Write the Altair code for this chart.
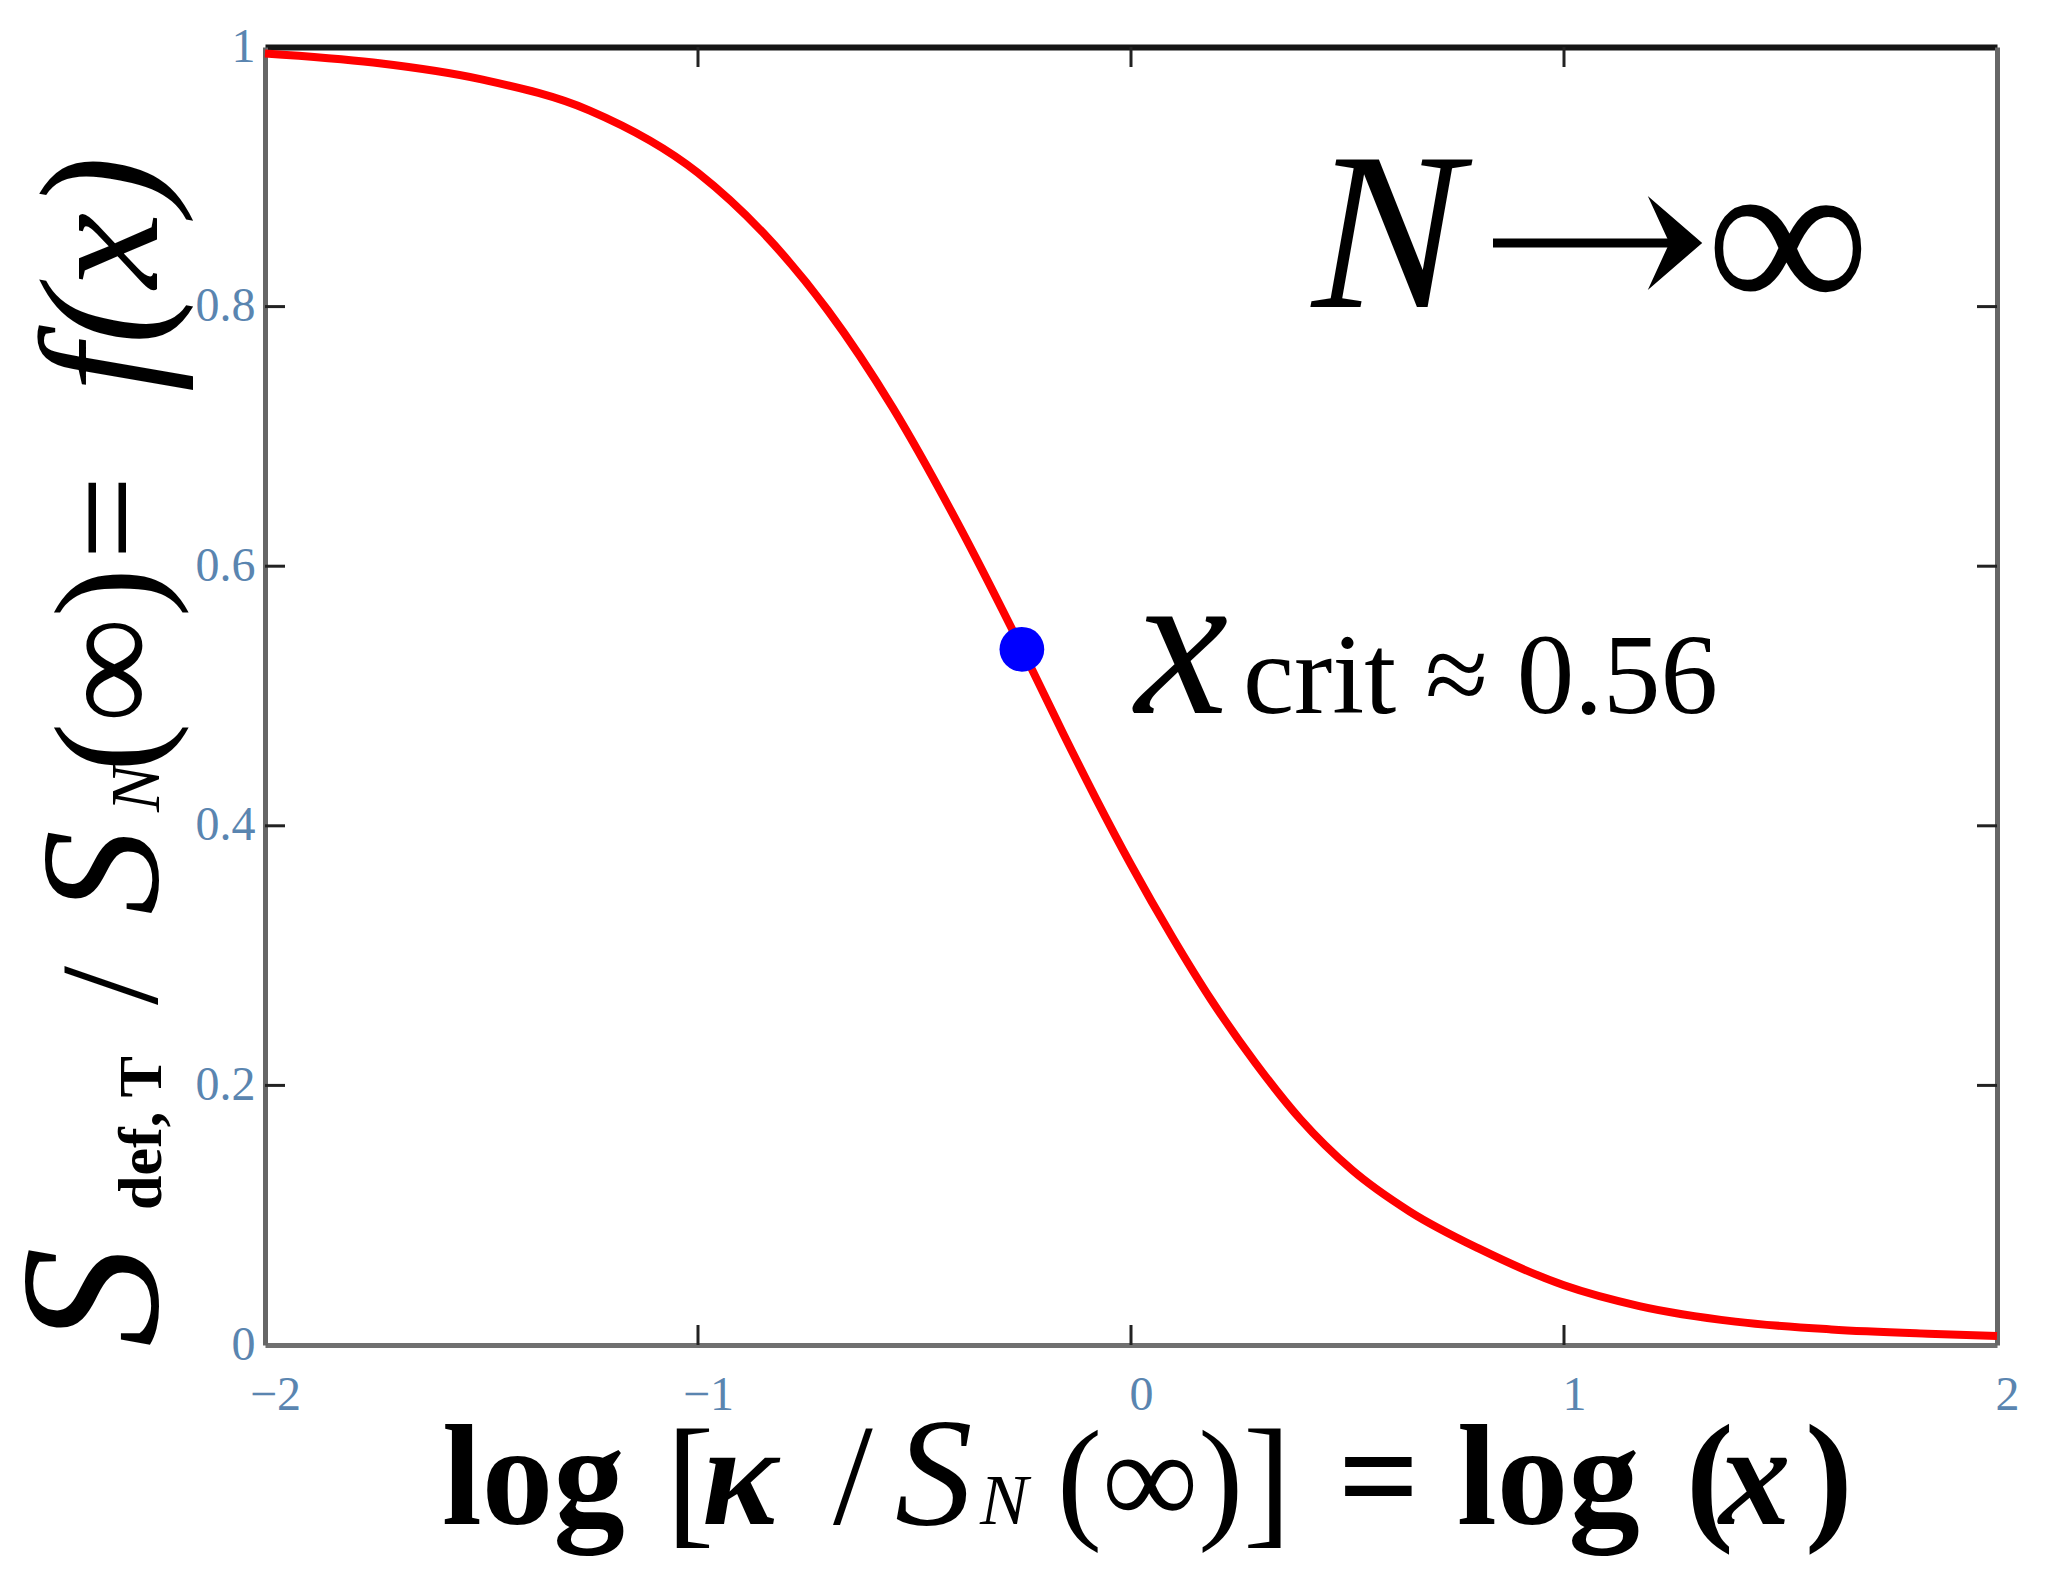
import altair as alt
import pandas as pd

# ---- data ----
log_x = [-2.0, -1.75, -1.5, -1.25, -1.0, -0.85, -0.7, -0.55, -0.4, -0.25, -0.155,
         -0.081, 0.0, 0.096, 0.185, 0.288, 0.391, 0.51, 0.643, 0.805, 1.0, 1.174,
         1.396, 1.617, 1.84, 2.0]
f_vals = [0.995, 0.988, 0.975, 0.951, 0.903, 0.857, 0.797, 0.722, 0.633, 0.535, 0.470,
          0.421, 0.370, 0.314, 0.266, 0.217, 0.174, 0.135, 0.103, 0.074, 0.046, 0.030,
          0.018, 0.012, 0.0087, 0.007]
crit_log_x = [-0.252]
crit_f = [0.536]
x_tick_values = [-2, -1, 0, 1, 2]
y_tick_values = [0, 0.2, 0.4, 0.6, 0.8, 1]
x_inner_ticks = [-1, 0, 1]
y_inner_ticks = [0.2, 0.4, 0.6, 0.8]

W, H = 1732, 1298
SERIF = "Liberation Serif"

curve = pd.DataFrame({"lx": log_x, "f": f_vals})
crit = pd.DataFrame({"lx": crit_log_x, "f": crit_f})
xt = pd.DataFrame({"t": x_inner_ticks})
yt = pd.DataFrame({"t": y_inner_ticks})
one = alt.Data(values=[{"k": 0}])

xs = alt.Scale(domain=[-2, 2], nice=False, zero=False)
ys = alt.Scale(domain=[0, 1], nice=False, zero=False)

label_style = dict(labelFont=SERIF, labelFontSize=48, labelColor="#5a85b0",
                   labelOverlap=False, labelFlush=False, format="~g",
                   grid=False, ticks=False, title=None)

line = alt.Chart(curve).mark_line(color="#ff0000", strokeWidth=8,
                                  interpolate="monotone").encode(
    x=alt.X("lx:Q", scale=xs,
            axis=alt.Axis(orient="bottom", values=x_tick_values, labelPadding=26,
                          labelOffset=10, domainColor="#707070", domainWidth=5,
                          **label_style)),
    y=alt.Y("f:Q", scale=ys,
            axis=alt.Axis(orient="left", values=y_tick_values, labelPadding=10,
                          domainColor="#666666", domainWidth=5, **label_style)),
)

point = alt.Chart(crit).mark_circle(color="#0000ff", size=2000, opacity=1).encode(
    x=alt.X("lx:Q", scale=xs,
            axis=alt.Axis(orient="top", labels=False, ticks=False, title=None,
                          grid=False, domainColor="#151515", domainWidth=6)),
    y=alt.Y("f:Q", scale=ys,
            axis=alt.Axis(orient="right", labels=False, ticks=False, title=None,
                          grid=False, domainColor="#666666", domainWidth=5)),
)

TL = 20
tick_kw = dict(color="#222222", strokeWidth=3)
bottom_ticks = alt.Chart(xt).mark_rule(**tick_kw).encode(
    x=alt.X("t:Q", scale=xs, axis=None), y=alt.value(H), y2=alt.value(H - TL))
top_ticks = alt.Chart(xt).mark_rule(**tick_kw).encode(
    x=alt.X("t:Q", scale=xs, axis=None), y=alt.value(0), y2=alt.value(TL))
left_ticks = alt.Chart(yt).mark_rule(**tick_kw).encode(
    y=alt.Y("t:Q", scale=ys, axis=None), x=alt.value(0), x2=alt.value(TL))
right_ticks = alt.Chart(yt).mark_rule(**tick_kw).encode(
    y=alt.Y("t:Q", scale=ys, axis=None), x=alt.value(W - TL), x2=alt.value(W))


def txt(s, x, y, size, style="normal", weight="normal", angle=0, font=SERIF):
    return alt.Chart(one).mark_text(
        text=s, font=font, fontSize=size, fontStyle=style, fontWeight=weight,
        angle=angle, align="left", baseline="alphabetic", color="#000000"
    ).encode(x=alt.value(x), y=alt.value(y))


# in-plot annotation: N -> infinity
arrow_shaft = alt.Chart(one).mark_rule(color="#000000", strokeWidth=9).encode(
    x=alt.value(1228), x2=alt.value(1405), y=alt.value(196))
arrow_head = alt.Chart(one).mark_point(
    shape="M -0.58 -1 L 0.58 0 L -0.58 1 L -0.12 0 Z", filled=True,
    color="#000000", opacity=1, size=8800, strokeWidth=0).encode(
    x=alt.value(1410), y=alt.value(196))

annots = [
    txt("N", 1047, 260, 225, style="italic"),
    arrow_shaft, arrow_head,
    txt("\u221e", 1441, 268, 230),
    txt("x", 870, 666, 210, style="italic"),
    txt("crit \u2248 0.56", 978, 666, 115),
]

# x-axis title pieces: log [κ / S_N(∞)] = log (x)
XB = 1477
xtitle = [
    txt("log", 177, XB, 143, weight="bold"),
    txt("[", 401, XB + 5, 145),
    txt("\u03ba", 437, XB, 143, style="italic", weight="bold"),
    txt("/", 568, XB, 143),
    txt("S", 630, XB, 155, style="italic"),
    txt("N", 715, XB, 72, style="italic"),
    txt("(\u221e)", 792, XB, 135),
    txt("]", 978, XB + 5, 145),
    txt("=", 1073, XB, 143, weight="bold"),
    txt("log", 1192, XB, 143, weight="bold"),
    txt("(", 1421, XB, 143, weight="bold"),
    txt("x", 1454, XB, 143, style="italic", weight="bold"),
    txt(")", 1540, XB, 143, weight="bold"),
]

# y-axis title pieces (rotated): S_def,T / S_N(∞) = f(x)
YB = -108
ytitle = [
    txt("S", YB, 1300, 200, style="italic", angle=270),
    txt("def, T", YB + 4, 1163, 62, weight="bold", angle=270),
    txt("/", YB, 958, 140, angle=270),
    txt("S", YB, 868, 170, style="italic", angle=270),
    txt("N", YB + 2, 765, 70, style="italic", angle=270),
    txt("(\u221e)", YB, 725, 148, angle=270),
    txt("=", YB, 513, 150, angle=270),
    txt("f(x)", YB, 345, 170, style="italic", angle=270),
]

chart = alt.layer(
    bottom_ticks, top_ticks, left_ticks, right_ticks, line, point,
    *annots, *xtitle, *ytitle
).resolve_axis(x="independent", y="independent").properties(
    width=W, height=H,
    autosize=alt.AutoSizeParams(type="none"),
    padding={"left": 257, "top": 39, "right": 40, "bottom": 215},
    background="white",
).configure_view(stroke=None)

chart.save("out.html", embed_options={"renderer": "svg", "actions": False})
